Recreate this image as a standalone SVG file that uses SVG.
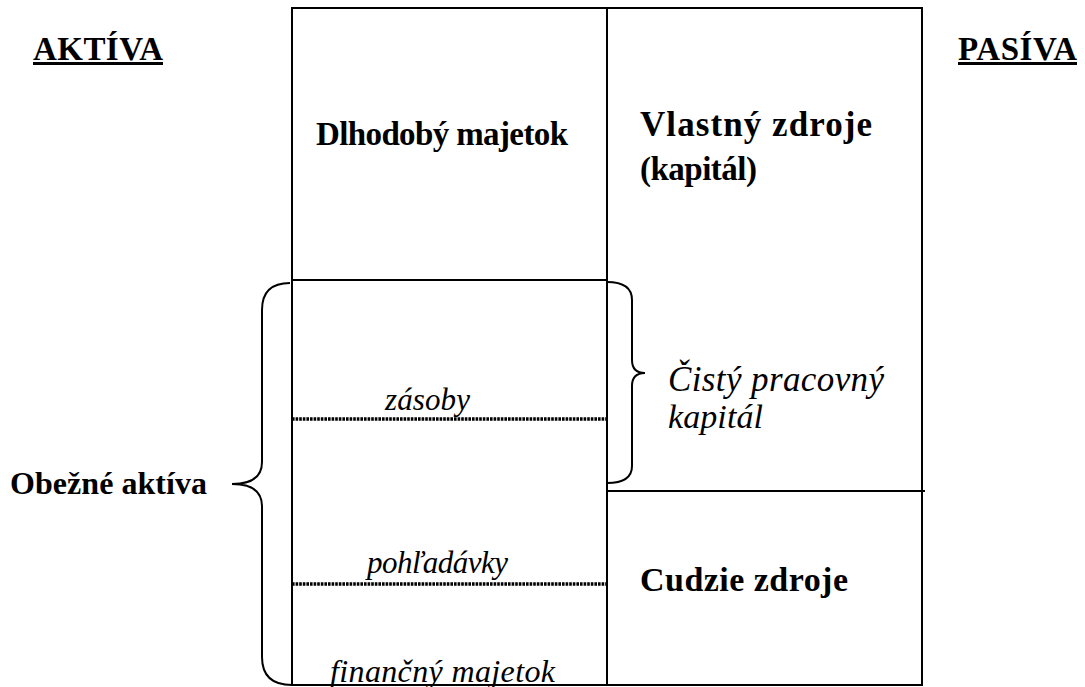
<svg xmlns="http://www.w3.org/2000/svg" width="1085" height="687" viewBox="0 0 1085 687">
<style>
.ln{stroke:#000;stroke-width:2;fill:none}
.dot{stroke:#000;stroke-width:3.5;stroke-dasharray:2.6 1;fill:none}
.br{stroke:#000;stroke-width:2;fill:none}
text{fill:#000}
</style>
<rect width="1085" height="687" fill="#fff"/>
<g id="headers">
<text x="33" y="60" style="font-family:'Liberation Serif',serif;font-weight:bold;font-size:33px" textLength="130" lengthAdjust="spacing">AKTÍVA</text>
<rect x="33" y="62" width="130" height="3" fill="#000"/>
<text x="958" y="60" style="font-family:'Liberation Serif',serif;font-weight:bold;font-size:33px" textLength="119" lengthAdjust="spacing">PASÍVA</text>
<rect x="958" y="62" width="119" height="3" fill="#000"/>
</g>
<g id="frame">
<rect class="ln" x="292" y="8" width="630" height="677"/>
<line class="ln" x1="607" y1="8" x2="607" y2="685"/>
<line class="ln" x1="292" y1="280" x2="607" y2="280"/>
<line class="ln" x1="607" y1="491" x2="925" y2="491"/>
<line class="dot" x1="292" y1="419" x2="607" y2="419"/>
<line class="dot" x1="292" y1="584" x2="607" y2="584"/>
</g>
<g id="dlhodoby"><text x="316" y="145" style="font-family:'Liberation Serif',serif;font-weight:bold;font-size:33px" textLength="252" lengthAdjust="spacing">Dlhodobý majetok</text></g>
<g id="vlastne"><text x="640" y="136" style="font-family:'Liberation Serif',serif;font-weight:bold;font-size:35px" textLength="232" lengthAdjust="spacing">Vlastný zdroje</text><text x="640" y="180" style="font-family:'Liberation Serif',serif;font-weight:bold;font-size:33px" textLength="117" lengthAdjust="spacing">(kapitál)</text></g>
<g id="cudzie"><text x="640" y="591" style="font-family:'Liberation Serif',serif;font-weight:bold;font-size:34px" textLength="208" lengthAdjust="spacing">Cudzie zdroje</text></g>
<g id="zasoby"><text x="385" y="410" style="font-family:'Liberation Serif',serif;font-style:italic;font-size:31px" textLength="85" lengthAdjust="spacing">zásoby</text></g>
<g id="pohladavky"><text x="367" y="573" style="font-family:'Liberation Serif',serif;font-style:italic;font-size:31px" textLength="141" lengthAdjust="spacing">pohľadávky</text></g>
<g id="financny"><text x="330" y="682" style="font-family:'Liberation Serif',serif;font-style:italic;font-size:32px" textLength="225" lengthAdjust="spacing">finančný majetok</text></g>
<g id="cpk"><text x="668" y="391" style="font-family:'Liberation Serif',serif;font-style:italic;font-size:35px" textLength="216" lengthAdjust="spacing">Čistý pracovný</text><text x="668" y="428" style="font-family:'Liberation Serif',serif;font-style:italic;font-size:34px" textLength="95" lengthAdjust="spacing">kapitál</text></g>
<g id="obezne"><text x="10" y="494" style="font-family:'Liberation Serif',serif;font-weight:bold;font-size:32px" textLength="197" lengthAdjust="spacing">Obežné aktíva</text></g>
<g id="connectors">
<path class="br" d="M290,283 Q262,283 262,310 L262,462 Q262,484 232,484 Q262,484 262,506 L262,657 Q262,685 292,685"/>
<path class="br" d="M607,282 Q632,282 632,300 L632,360 Q632,373 645,373 Q632,373 632,386 L632,466 Q632,483 607,483"/>
</g>
</svg>
